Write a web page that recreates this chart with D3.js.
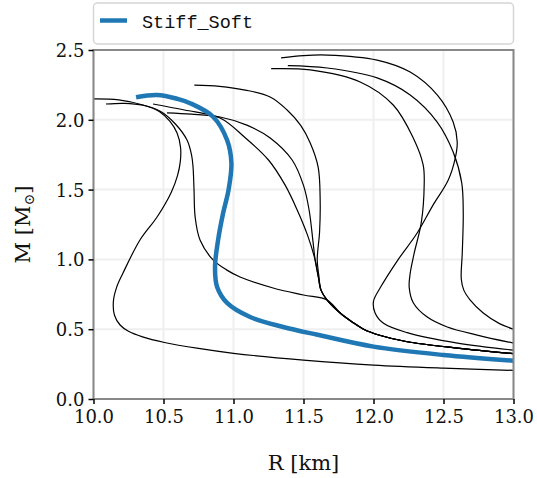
<!DOCTYPE html>
<html>
<head>
<meta charset="utf-8">
<script src="https://cdn.jsdelivr.net/npm/d3@7"></script>
<style>
  html, body { margin: 0; padding: 0; background: #fff; }
  svg { display: block; }
</style>
</head>
<body>
<svg id="chart" width="537" height="478"></svg>
<script>
// ---- data (R [km], M [Msun]) ----
const xTicks = [10.0, 10.5, 11.0, 11.5, 12.0, 12.5, 13.0];
const yTicks = [0.0, 0.5, 1.0, 1.5, 2.0, 2.5];
const legendLabel = "Stiff_Soft";

const bundleTail = [[11.669,0.709],[11.762,0.616],[11.85,0.55],[11.926,0.502],[12.05,0.455],[12.241,0.41],[12.6,0.365],[13.0,0.325]];

const eosA = [[10.00,2.150],[10.18,2.143],[10.354,2.106],[10.47,2.06],[10.545,1.99],[10.597,1.905],[10.622,1.80],[10.62,1.70],[10.60,1.60],[10.555,1.48],[10.454,1.304],[10.332,1.139],[10.211,0.903],[10.165,0.80],[10.142,0.70],[10.15,0.60],[10.19,0.53],[10.25,0.485],[10.35,0.445],[10.507,0.405],[10.75,0.362],[11.0,0.327],[11.5,0.279],[12.0,0.243],[12.5,0.221],[13.0,0.205]];
const eosB = [[10.089,2.113],[10.22,2.118],[10.354,2.104],[10.48,2.06],[10.585,1.97],[10.668,1.855],[10.70,1.75],[10.711,1.662],[10.718,1.50],[10.726,1.304],[10.761,1.139],[10.854,0.996],[10.95,0.925],[11.047,0.874],[11.283,0.795],[11.50,0.745]];
const eosC = [[10.425,2.113],[10.65,2.07],[10.904,2.013],[11.08,1.875],[11.25,1.712],[11.37,1.53],[11.455,1.354],[11.53,1.17],[11.583,0.996],[11.605,0.88],[11.625,0.78]];
const eosD = [[10.525,2.049],[10.70,2.04],[10.904,2.02],[11.10,1.96],[11.262,1.87],[11.419,1.712],[11.50,1.53],[11.54,1.354],[11.569,1.117],[11.583,0.996],[11.605,0.88],[11.625,0.78]];
const eosE = [[10.72,2.249],[10.9,2.24],[11.084,2.213],[11.262,2.163],[11.383,2.07],[11.48,1.96],[11.548,1.834],[11.605,1.66],[11.619,1.425],[11.615,1.2],[11.598,0.996],[11.61,0.88],[11.625,0.78]];
const eosF = [[11.34,2.443],[11.50,2.46],[11.669,2.464],[12.026,2.428],[12.262,2.342],[12.455,2.178],[12.569,1.984],[12.598,1.841],[12.584,1.726],[12.534,1.569],[12.42,1.38],[12.312,1.189],[12.17,0.99],[12.05,0.80],[12.00,0.70],[12.01,0.62],[12.069,0.544],[12.241,0.475],[12.6,0.40],[13.0,0.35]];
const eosG = [[11.269,2.366],[11.548,2.357],[11.905,2.271],[12.141,2.106],[12.284,1.87],[12.355,1.676],[12.362,1.533],[12.341,1.261],[12.291,1.046],[12.262,0.90],[12.255,0.80],[12.284,0.69],[12.384,0.587],[12.527,0.516],[12.741,0.458],[13.0,0.40]];
const eosH = [[11.388,2.388],[11.669,2.371],[12.026,2.30],[12.262,2.178],[12.455,1.984],[12.569,1.769],[12.63,1.55],[12.641,1.332],[12.634,1.046],[12.627,0.86],[12.645,0.78],[12.691,0.709],[12.784,0.616],[12.90,0.54],[13.0,0.50]];
const stiffSoft = [[10.304,2.161],[10.454,2.178],[10.60,2.15],[10.69,2.119],[10.854,2.022],[10.954,1.855],[10.985,1.69],[10.965,1.50],[10.926,1.332],[10.89,1.139],[10.868,0.946],[10.883,0.802],[10.954,0.688],[11.119,0.587],[11.355,0.516],[11.6,0.46],[12.0,0.375],[12.5,0.315],[13.0,0.274]];

const blackCurves = [
  eosA,
  eosB.concat(bundleTail),
  eosC.concat(bundleTail),
  eosD.concat(bundleTail),
  eosE.concat(bundleTail),
  eosF, eosG, eosH
];

// ---- layout ----
const pL = 93.5, pR = 513.5, pT = 50, pB = 399;

const x = d3.scaleLinear().domain([10, 13]).range([pL, pR]);
const y = d3.scaleLinear().domain([0, 2.5]).range([pB, pT]);

const svg = d3.select("#chart");
const tickFont = "DejaVu Serif";

svg.append("defs").append("clipPath").attr("id", "clip")
  .append("rect").attr("x", pL).attr("y", pT)
  .attr("width", pR - pL).attr("height", pB - pT);

// grid
const grid = svg.append("g");
grid.selectAll("line.vx").data(xTicks).join("line")
  .attr("x1", d => x(d)).attr("x2", d => x(d))
  .attr("y1", pT).attr("y2", pB)
  .attr("stroke", "#efefef").attr("stroke-width", 2);
grid.selectAll("line.hy").data(yTicks).join("line")
  .attr("x1", pL).attr("x2", pR)
  .attr("y1", d => y(d)).attr("y2", d => y(d))
  .attr("stroke", "#efefef").attr("stroke-width", 2);

// curves
const line = d3.line()
  .x(d => x(d[0])).y(d => y(d[1]))
  .curve(d3.curveCatmullRom.alpha(0.5));

const plot = svg.append("g").attr("clip-path", "url(#clip)");
plot.selectAll("path.eos").data(blackCurves).join("path")
  .attr("class", "eos")
  .attr("d", line)
  .attr("fill", "none").attr("stroke", "#000").attr("stroke-width", 1.2);

plot.append("path").datum(stiffSoft)
  .attr("d", line)
  .attr("fill", "none").attr("stroke", "#1f77b4").attr("stroke-width", 4.5)
  .attr("stroke-linecap", "butt");

// frame
svg.append("rect").attr("x", pL).attr("y", pT)
  .attr("width", pR - pL).attr("height", pB - pT)
  .attr("fill", "none").attr("stroke", "#888").attr("stroke-width", 2);

// axes
const xAxis = d3.axisBottom(x).tickValues(xTicks).tickFormat(d3.format(".1f"))
  .tickSize(5).tickPadding(6);
const yAxis = d3.axisLeft(y).tickValues(yTicks).tickFormat(d3.format(".1f"))
  .tickSize(5).tickPadding(4);

const gx = svg.append("g").attr("transform", `translate(0,${pB})`).call(xAxis);
const gy = svg.append("g").attr("transform", `translate(${pL},0)`).call(yAxis);
[gx, gy].forEach(g => {
  g.select(".domain").remove();
  g.selectAll(".tick line").attr("stroke", "#000").attr("stroke-width", 1.5);
  g.selectAll(".tick text").attr("fill", "#111")
    .attr("font-family", tickFont).attr("font-size", 18);
});
gy.selectAll(".tick text").attr("dy", "0.36em");

// axis labels
svg.append("text")
  .attr("x", (pL + pR) / 2).attr("y", 470)
  .attr("text-anchor", "middle")
  .attr("font-family", tickFont).attr("font-size", 21).attr("fill", "#111")
  .text("R [km]");

const yl = svg.append("text")
  .attr("transform", `translate(30,${(pT + pB) / 2}) rotate(-90)`)
  .attr("text-anchor", "middle")
  .attr("font-family", tickFont).attr("font-size", 21).attr("fill", "#111");
yl.append("tspan").text("M [M");
yl.append("tspan").attr("font-size", 14).attr("dy", 4).text("⊙");
yl.append("tspan").attr("dy", -4).text("]");

// legend
const lg = svg.append("g");
lg.append("rect").attr("x", pL).attr("y", 3).attr("width", pR - pL).attr("height", 41)
  .attr("rx", 4).attr("fill", "#fff").attr("stroke", "#d5d5d5").attr("stroke-width", 1.5);
lg.append("line").attr("x1", 100).attr("x2", 127).attr("y1", 20.5).attr("y2", 20.5)
  .attr("stroke", "#1f77b4").attr("stroke-width", 4.5);
lg.append("text").attr("x", 142).attr("y", 28)
  .attr("font-family", "Liberation Mono").attr("font-size", 18.5).attr("fill", "#111")
  .text(legendLabel);
</script>
</body>
</html>
